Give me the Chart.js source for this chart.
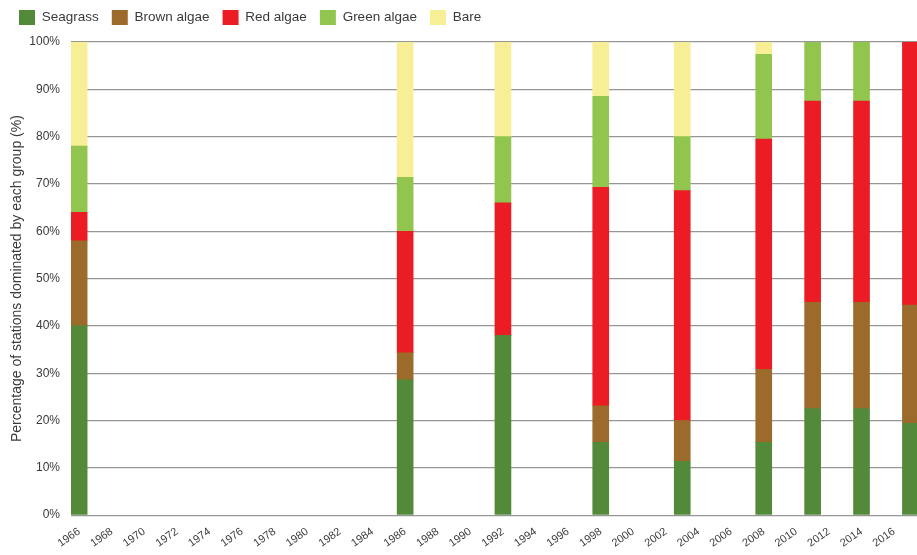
<!DOCTYPE html>
<html>
<head>
<meta charset="utf-8">
<script src="https://cdn.jsdelivr.net/npm/chart.js@4.4.1/dist/chart.umd.min.js"></script>
<style>
  html, body { margin: 0; padding: 0; background: #fff; overflow: hidden; }
  #wrap { width: 920px; height: 555px; }
</style>
</head>
<body>
<div id="wrap"><canvas id="mycanvas"></canvas></div>
<script>
// survey years that have a bar
var sampleYears = [1966, 1986, 1992, 1998, 2003, 2008, 2011, 2014, 2017];

// % of stations dominated by each group
var seagrass   = [40, 28.6, 38, 15.4, 11.4, 15.4, 22.5, 22.5, 19.4];
var brownAlgae = [18, 5.7, 0, 7.7, 8.6, 15.4, 22.5, 22.5, 25];
var redAlgae   = [6, 25.7, 28, 46.2, 48.6, 48.7, 42.5, 42.5, 55.6];
var greenAlgae = [14, 11.4, 14, 19.2, 11.4, 17.9, 12.5, 12.5, 0];
var bare       = [22, 28.6, 20, 11.5, 20, 2.6, 0, 0, 0];

var firstYear = 1966;
var lastYear = 2017;

var axisYears = [];
for (var y = firstYear; y <= lastYear; y++) {
	axisYears.push(y);
}

function spread(values) {
	return axisYears.map(function(yr) {
		var i = sampleYears.indexOf(yr);
		return i < 0 ? null : values[i];
	});
}

var textColor = '#3a3a3a';
var fontFamily = '"Liberation Sans", Arial, sans-serif';

var chartdata = {
	labels: axisYears,
	datasets: [
		{ label: 'Seagrass', backgroundColor: '#538a3a', data: spread(seagrass) },
		{ label: 'Brown algae', backgroundColor: '#9c6a2a', data: spread(brownAlgae) },
		{ label: 'Red algae', backgroundColor: '#ec1c24', data: spread(redAlgae) },
		{ label: 'Green algae', backgroundColor: '#92c54e', data: spread(greenAlgae) },
		{ label: 'Bare', backgroundColor: '#f8ee95', data: spread(bare) }
	]
};

// a bit more room between legend and plot
var legendGap = {
	id: 'legendGap',
	beforeInit: function(chart) {
		var fit = chart.legend.fit;
		chart.legend.fit = function() {
			fit.bind(chart.legend)();
			this.height += 7;
		};
	}
};

var ctx = document.getElementById('mycanvas');

var barGraph = new Chart(ctx, {
	type: 'bar',
	data: chartdata,
	plugins: [legendGap],
	options: {
		responsive: true,
		maintainAspectRatio: false,
		animation: false,
		layout: { padding: { left: 6, right: 0, top: -3, bottom: 3 } },
		datasets: { bar: { barThickness: 16, borderWidth: 0 } },
		plugins: {
			tooltip: { enabled: false },
			legend: {
				position: 'top',
				align: 'start',
				labels: {
					boxWidth: 16,
					boxHeight: 15,
					padding: 13,
					color: textColor,
					font: { family: fontFamily, size: 13.5 }
				}
			}
		},
		scales: {
			x: {
				stacked: true,
				grid: { display: false },
				border: { display: false },
				ticks: {
					autoSkip: false,
					minRotation: 35,
					maxRotation: 35,
					padding: 2,
					color: textColor,
					font: { family: fontFamily, size: 11 },
					callback: function(val, i) {
						return axisYears[i] % 2 === 0 ? String(axisYears[i]) : '';
					}
				}
			},
			y: {
				stacked: true,
				min: 0,
				max: 100,
				afterFit: function(scale) { scale.width = 65; },
				grid: { color: '#969696', lineWidth: 1.3, drawTicks: false },
				border: { display: false },
				ticks: {
					stepSize: 10,
					padding: 11,
					color: textColor,
					font: { family: fontFamily, size: 12 },
					callback: function(v) { return v + '%'; }
				},
				title: {
					display: true,
					text: 'Percentage of stations dominated by each group (%)',
					color: textColor,
					font: { family: fontFamily, size: 14 },
					padding: { top: 3, bottom: 4 }
				}
			}
		}
	}
});
</script>
</body>
</html>
